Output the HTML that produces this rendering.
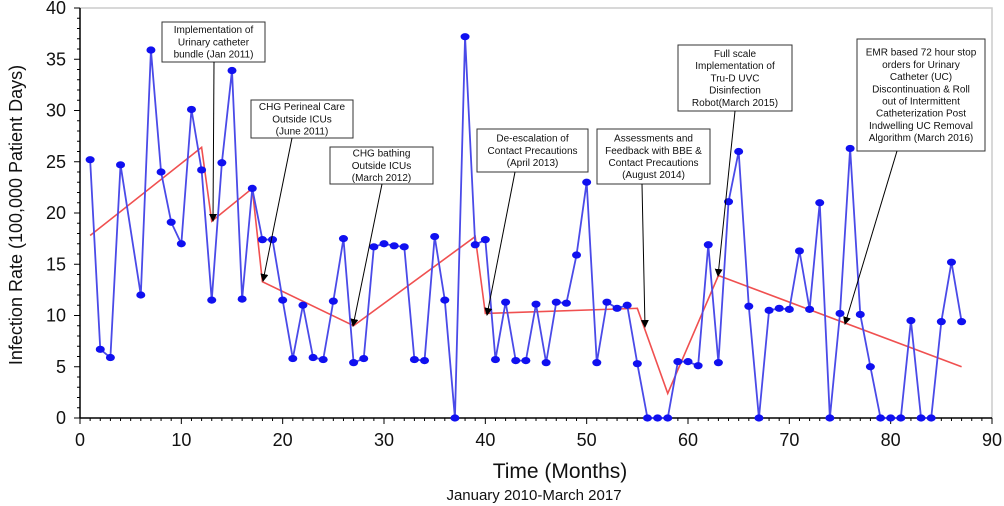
<!DOCTYPE html>
<html><head><meta charset="utf-8"><style>
body{margin:0;background:#fff;}
svg{display:block;font-family:"Liberation Sans",sans-serif;}
</style></head><body>
<svg id="c" width="1004" height="506" viewBox="0 0 1004 506">
<g id="axes"></g>
<g id="trend"></g>
<g id="series"></g>
<g id="notes"></g>
<text x="560" y="478" font-size="21" text-anchor="middle" fill="#111">Time (Months)</text>
<text x="534" y="500" font-size="15" text-anchor="middle" fill="#111">January 2010-March 2017</text>
<text transform="translate(22,215) rotate(-90)" font-size="18" text-anchor="middle" fill="#111">Infection Rate (100,000 Patient Days)</text>
</svg>
<script>
const months=[1,2,3,4,6,7,8,9,10,11,12,13,14,15,16,17,18,19,20,21,22,23,24,25,26,27,28,29,30,31,32,33,34,35,36,37,38,39,40,41,42,43,44,45,46,47,48,49,50,51,52,53,54,55,56,57,58,59,60,61,62,63,64,65,66,67,68,69,70,71,72,73,74,75,76,77,78,79,80,81,82,83,84,85,86,87];
const rates=[25.2,6.7,5.9,24.7,12,35.9,24,19.1,17,30.1,24.2,11.5,24.9,33.9,11.6,22.4,17.4,17.4,11.5,5.8,11.0,5.9,5.7,11.4,17.5,5.4,5.8,16.7,17.0,16.8,16.7,5.7,5.6,17.7,11.5,0,37.2,16.9,17.4,5.7,11.3,5.6,5.6,11.1,5.4,11.3,11.2,15.9,23,5.4,11.3,10.7,11.0,5.3,0,0,0,5.5,5.5,5.1,16.9,5.4,21.1,26.0,10.9,0,10.5,10.7,10.6,16.3,10.6,21,0,10.2,26.3,10.1,5.0,0,0,0,9.5,0,0,9.4,15.2,9.4];
const trendX=[1,12,13,17,18,27,39,40,55,58,63,87];
const trendY=[17.8,26.4,19.2,22.4,13.3,9.0,17.7,10.2,10.7,2.4,13.9,5.0];
const xTicks=[0,10,20,30,40,50,60,70,80,90];
const yTicks=[0,5,10,15,20,25,30,35,40];
const notes=[
 {lines:["Implementation of","Urinary catheter","bundle (Jan 2011)"],box:[162,22,103,40],from:[214,62],to:[213,221]},
 {lines:["CHG Perineal Care","Outside ICUs","(June 2011)"],box:[251,100,102,38],from:[292,138],to:[263,281]},
 {lines:["CHG bathing","Outside ICUs","(March 2012)"],box:[330,147,103,37],from:[382,184],to:[353,326]},
 {lines:["De-escalation of","Contact Precautions","(April 2013)"],box:[477,129,111,43],from:[515,172],to:[487,315]},
 {lines:["Assessments and","Feedback with BBE &","Contact Precautions","(August 2014)"],box:[597,129,113,55],from:[642,184],to:[645,327]},
 {lines:["Full scale","Implementation of","Tru-D UVC","Disinfection","Robot(March 2015)"],box:[678,45,114,66],from:[735,111],to:[718,276]},
 {lines:["EMR based 72 hour stop","orders for Urinary","Catheter (UC)","Discontinuation & Roll","out of Intermittent","Catheterization Post","Indwelling UC Removal","Algorithm (March 2016)"],box:[857,39,128,112],from:[897,151],to:[845,324]}
];
const NS="http://www.w3.org/2000/svg";
const X0=80,X1=992,Y0=418,Y1=8;
const sx=v=>X0+(v-0)/(90-0)*(X1-X0);
const sy=v=>Y0-(v-0)/(40-0)*(Y0-Y1);
function mk(t,a,p){const e=document.createElementNS(NS,t);for(const k in a)e.setAttribute(k,a[k]);p.appendChild(e);return e;}
const ax=document.getElementById('axes');
let frame=mk('path',{d:`M${X0},${Y1}H${X1}V${Y0}`,fill:'none',stroke:'#ccc','stroke-width':1.5},ax);


let xl=mk('line',{x1:X0,y1:Y0,x2:X1,y2:Y0,stroke:'#000','stroke-width':1.5},ax);


let yl=mk('line',{x1:X0,y1:Y0,x2:X0,y2:Y1,stroke:'#000','stroke-width':1.5},ax);


for(let i=0;i<=90;i++){mk('line',{x1:sx(i),y1:Y0,x2:sx(i),y2:Y0+(i%10?3:6),stroke:'#000','stroke-width':1},ax);}
for(let i=0;i<=40;i++){mk('line',{x1:X0,y1:sy(i),x2:X0-(i%5?3:6),y2:sy(i),stroke:'#000','stroke-width':1},ax);}
xTicks.forEach(v=>{const t=mk('text',{x:sx(v),y:446,'font-size':18,'text-anchor':'middle',fill:'#111'},ax);t.textContent=v;

});
yTicks.forEach(v=>{const t=mk('text',{x:X0-14,y:sy(v)+6,'font-size':18,'text-anchor':'end',fill:'#111'},ax);t.textContent=v;

});
const tr=document.getElementById('trend');
const tl=mk('polyline',{points:trendX.map((m,i)=>sx(m)+','+sy(trendY[i])).join(' '),fill:'none',stroke:'#f05050','stroke-width':1.6},tr);


const se=document.getElementById('series');
const pl=mk('polyline',{points:months.map((m,i)=>sx(m)+','+sy(rates[i])).join(' '),fill:'none',stroke:'#4a4ae8','stroke-width':1.8},se);


months.forEach((m,i)=>{const c=mk('ellipse',{cx:sx(m),cy:sy(rates[i]),rx:4.5,ry:3.6,fill:'#1010f0'},se);

});
const nt=document.getElementById('notes');
mk('defs',{},nt).innerHTML='<marker id="ah" markerWidth="8" markerHeight="8" refX="7" refY="4" orient="auto" markerUnits="userSpaceOnUse"><path d="M0,0L8,4L0,8z" fill="#000"/></marker>';
notes.forEach(n=>{const g=mk('g',{},nt);


const [bx,by,bw,bh]=n.box;
mk('rect',{x:bx,y:by,width:bw,height:bh,fill:'#fff',stroke:'#333','stroke-width':1},g);
const lh=12.2,top=by+bh/2-(n.lines.length*lh)/2+9.5;
n.lines.forEach((s,j)=>{const t=mk('text',{x:bx+bw/2,y:top+j*lh,'font-size':10,'text-anchor':'middle',fill:'#111'},g);t.textContent=s;});
mk('line',{x1:n.from[0],y1:n.from[1],x2:n.to[0],y2:n.to[1],stroke:'#000','stroke-width':1,'marker-end':'url(#ah)'},g);
});
</script>
</body></html>
